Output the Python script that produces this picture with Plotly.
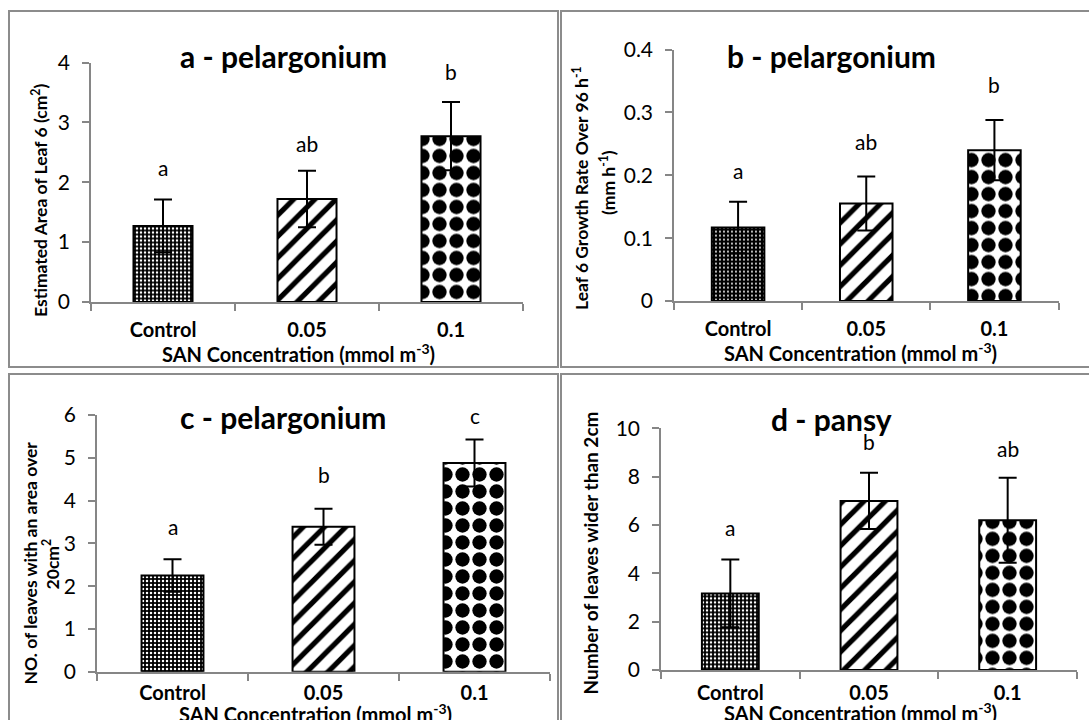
import plotly.graph_objects as go

# ---------------- data ----------------
categories = ["Control", "0.05", "0.1"]

a_mean = [1.27, 1.72, 2.77]
a_err = [0.44, 0.47, 0.57]
a_letters = ["a", "ab", "b"]

b_mean = [0.117, 0.155, 0.240]
b_err = [0.041, 0.043, 0.048]
b_letters = ["a", "ab", "b"]

c_mean = [2.25, 3.39, 4.88]
c_err = [0.38, 0.42, 0.55]
c_letters = ["a", "b", "c"]

d_mean = [3.17, 7.00, 6.20]
d_err = [1.40, 1.16, 1.76]
d_letters = ["a", "b", "ab"]

titles = ["a - pelargonium", "b - pelargonium", "c - pelargonium", "d - pansy"]
y_titles = [
    ["Estimated Area of Leaf 6 (cm<sup>2</sup>)"],
    ["Leaf 6 Growth Rate Over 96 h<sup>-1</sup>", "(mm h<sup>-1</sup>)"],
    ["NO. of leaves with an area over", "20cm<sup>2</sup>"],
    ["Number of leaves wider than 2cm"],
]
x_title = "SAN Concentration (mmol m<sup>-3</sup>)"

# ---------------- layout helpers (pixels -> paper) ----------------
W, H = 1089, 720
FONT = "Lato, Carlito, Calibri, sans-serif"
AXC = "#868686"


def px(x):
    return x / W


def py(y):
    return 1 - y / H


panels = [
    dict(mean=a_mean, err=a_err, letters=a_letters, letter_y=[2.25, 2.64, 3.85],
         xdom=[91, 523], ydom=[302, 62.5], yrange=[0, 4], dtick=1, standoff=9,
         title_xy=(283, 55.6), xt_xy=(298, 352.8),
         yt_xy=[(39, 201)], yt_size=17.5),
    dict(mean=b_mean, err=b_err, letters=b_letters, letter_y=[0.208, 0.254, 0.345],
         xdom=[674, 1058.5], ydom=[301, 49.6], yrange=[0, 0.4], dtick=0.1, standoff=9,
         title_xy=(831, 55.5), xt_xy=(860, 352),
         yt_xy=[(581, 188), (607, 183)], yt_size=17.5),
    dict(mean=c_mean, err=c_err, letters=c_letters, letter_y=[3.39, 4.6, 5.98],
         xdom=[97, 550], ydom=[671.8, 415], yrange=[0, 6], dtick=1, standoff=2,
         title_xy=(283, 417), xt_xy=(315.4, 712.8),
         yt_xy=[(29.5, 563), (50.4, 564)], yt_size=17.5),
    dict(mean=d_mean, err=d_err, letters=d_letters, letter_y=[5.9, 9.46, 9.17],
         xdom=[661, 1077], ydom=[670, 428.4], yrange=[0, 10], dtick=2, standoff=4,
         title_xy=(831, 419), xt_xy=(860, 712),
         yt_xy=[(590, 553.5)], yt_size=19),
]

control_patterns = [
    dict(shape=".", bgcolor="black", fgcolor="white", size=4, solidity=0.3, fillmode="replace"),
    dict(shape=".", bgcolor="black", fgcolor="white", size=4, solidity=0.18, fillmode="replace"),
    dict(shape=".", bgcolor="black", fgcolor="white", size=4, solidity=0.3, fillmode="replace"),
    dict(shape=".", bgcolor="black", fgcolor="white", size=4, solidity=0.3, fillmode="replace"),
]
stripe_pattern = dict(shape="/", bgcolor="white", fgcolor="black", size=15, solidity=0.35, fillmode="replace")
dot_pattern = dict(shape=".", bgcolor="white", fgcolor="black", size=17, solidity=0.56, fillmode="replace")

fig = go.Figure()
annotations = []
shapes = []

for i, p in enumerate(panels):
    n = "" if i == 0 else str(i + 1)
    xa, ya = "x" + n, "y" + n
    for j, cat in enumerate(categories):
        pat = [control_patterns[i], stripe_pattern, dot_pattern][j]
        fig.add_trace(go.Bar(
            x=[cat], y=[p["mean"][j]],
            error_y=dict(type="data", array=[p["err"][j]], visible=True,
                         color="black", thickness=2, width=9),
            marker=dict(color="white", pattern=pat, line=dict(color="black", width=2)),
            width=0.41, xaxis=xa, yaxis=ya, showlegend=False, hoverinfo="skip",
        ))
        annotations.append(dict(
            x=j, y=p["letter_y"][j], xref=xa, yref=ya, text=p["letters"][j],
            showarrow=False, font=dict(family=FONT, size=21, color="black"),
            xanchor="center", yanchor="middle"))

    xkey = "xaxis" + n
    ykey = "yaxis" + n
    fig.layout[xkey] = dict(
        domain=[px(p["xdom"][0]), px(p["xdom"][1])], anchor=ya,
        type="category", categoryorder="array", categoryarray=categories,
        range=[-0.5, 2.5], showline=True, linecolor=AXC, linewidth=1.5,
        ticks="outside", tickson="boundaries", ticklen=7, tickcolor=AXC, tickwidth=1.5,
        tickfont=dict(family=FONT, size=20, color="black", weight="bold"),
        ticklabelstandoff=p["standoff"], showgrid=False, zeroline=False, fixedrange=True,
        automargin=False)
    fig.layout[ykey] = dict(
        domain=[py(p["ydom"][0]), py(p["ydom"][1])], anchor=xa,
        range=p["yrange"], dtick=p["dtick"], tick0=0,
        showline=True, linecolor=AXC, linewidth=1.5,
        ticks="outside", ticklen=7, tickcolor=AXC, tickwidth=1.5,
        tickfont=dict(family=FONT, size=21, color="black"),
        ticklabelstandoff=8, showgrid=False, zeroline=False, fixedrange=True,
        automargin=False)

    # panel title
    annotations.append(dict(
        x=px(p["title_xy"][0]), y=py(p["title_xy"][1]), xref="paper", yref="paper",
        text="<b>" + titles[i] + "</b>", showarrow=False,
        font=dict(family=FONT, size=30, color="black"), xanchor="center", yanchor="middle"))
    # x-axis title
    annotations.append(dict(
        x=px(p["xt_xy"][0]), y=py(p["xt_xy"][1]), xref="paper", yref="paper",
        text="<b>" + x_title + "</b>", showarrow=False,
        font=dict(family=FONT, size=20, color="black"), xanchor="center", yanchor="middle"))
    # y-axis title lines
    for (tx, ty), line in zip(p["yt_xy"], y_titles[i]):
        annotations.append(dict(
            x=px(tx), y=py(ty), xref="paper", yref="paper",
            text="<b>" + line + "</b>", showarrow=False, textangle=-90,
            font=dict(family=FONT, size=p["yt_size"], color="black"),
            xanchor="center", yanchor="middle"))

# panel frames
frames = [(9, 11, 558, 367), (561, 11, 1095, 367), (9, 374, 558, 730), (561, 374, 1095, 730)]
for x0, y0, x1, y1 in frames:
    shapes.append(dict(type="rect", xref="paper", yref="paper",
                       x0=px(x0), x1=px(x1), y0=py(y0), y1=py(y1),
                       line=dict(color="#8c8c8c", width=2), fillcolor="rgba(0,0,0,0)"))

fig.update_layout(
    width=W, height=H, margin=dict(l=0, r=0, t=0, b=0, pad=0, autoexpand=False),
    paper_bgcolor="white", plot_bgcolor="white",
    annotations=annotations, shapes=shapes, barmode="overlay",
    font=dict(family=FONT, color="black"),
)

fig.write_html("out.html", config={"displayModeBar": False},
               post_script="document.body.style.margin='0';document.body.style.overflow='hidden';")
